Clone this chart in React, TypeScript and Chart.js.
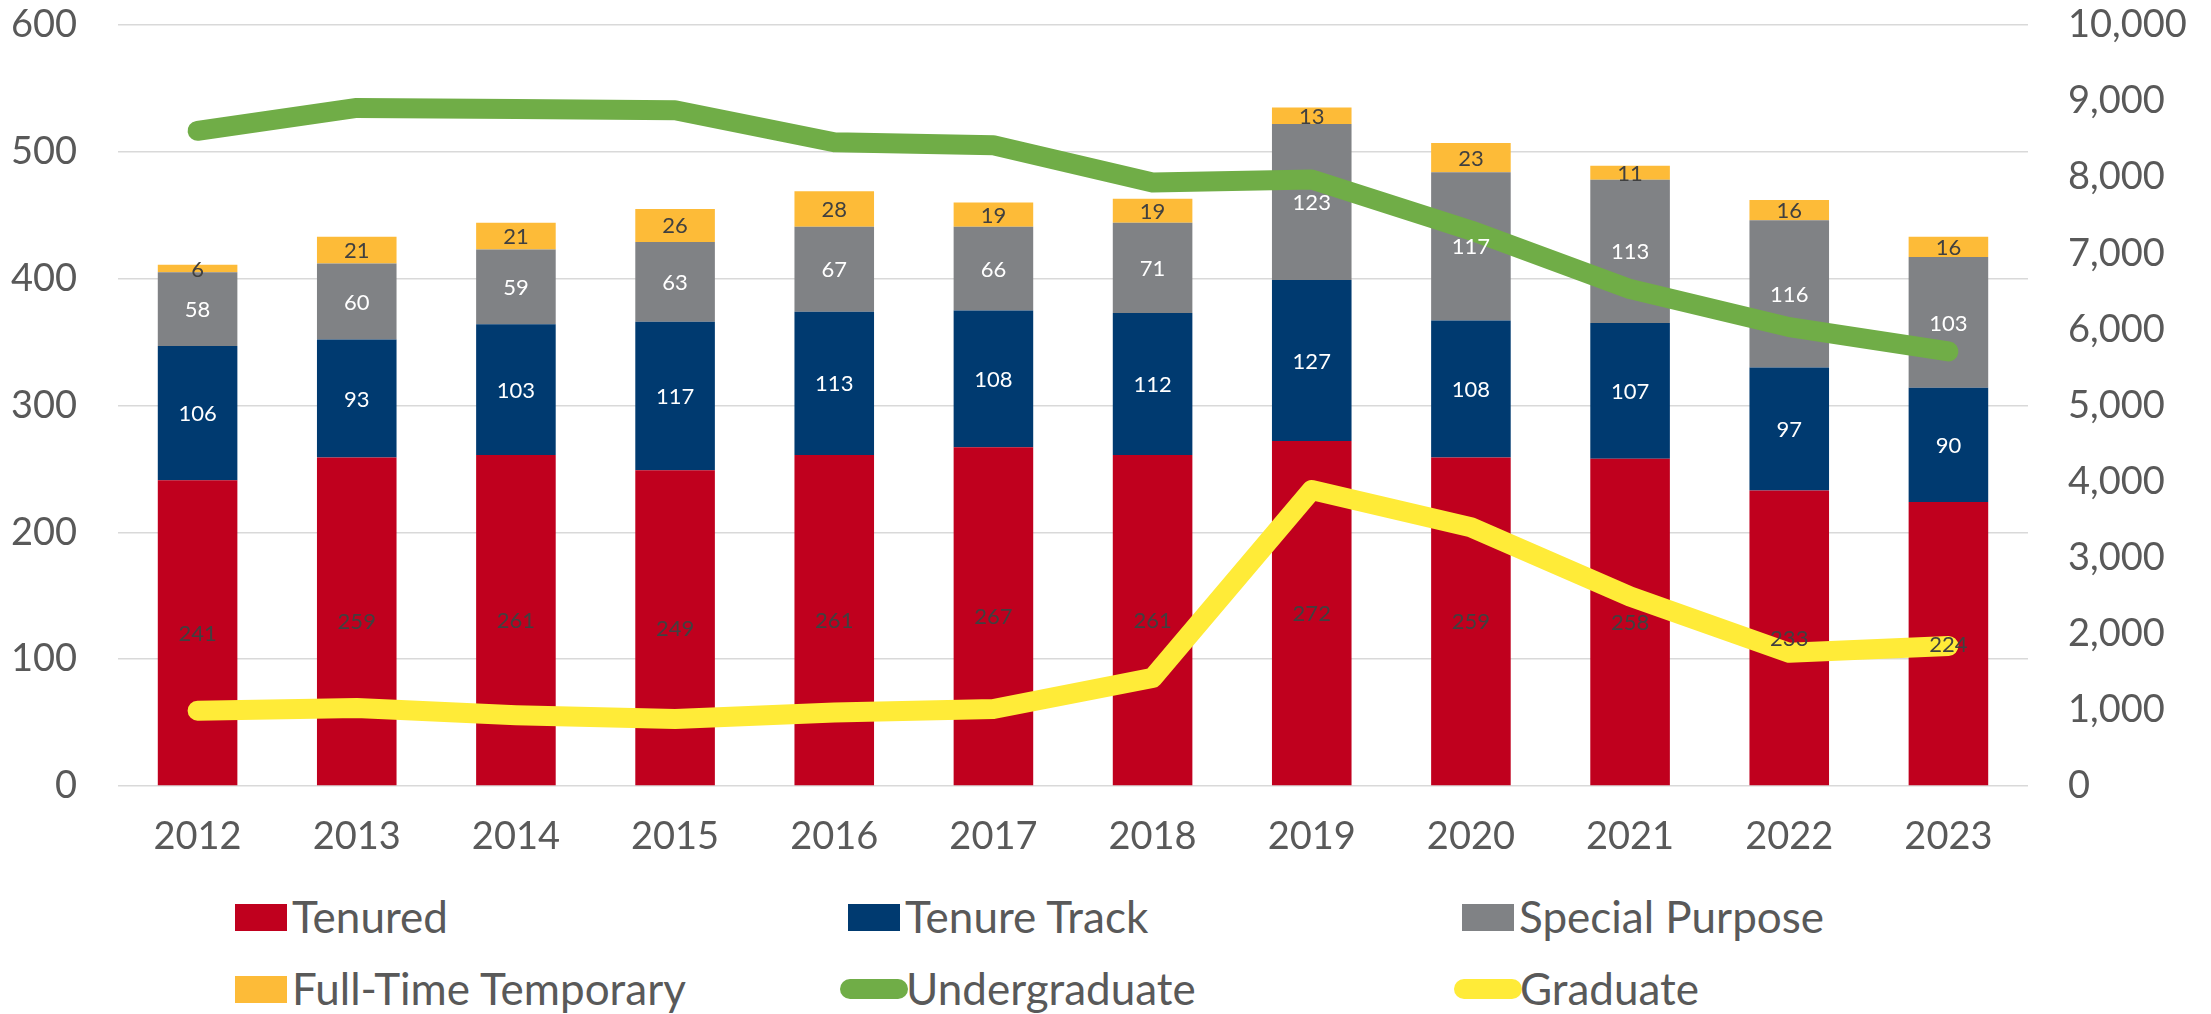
import React, { useEffect, useRef } from "react";
import { Chart, registerables } from "chart.js";

Chart.register(...registerables);

const years = ["2012", "2013", "2014", "2015", "2016", "2017", "2018", "2019", "2020", "2021", "2022", "2023"];
const tenured = [241, 259, 261, 249, 261, 267, 261, 272, 259, 258, 233, 224];
const tenureTrack = [106, 93, 103, 117, 113, 108, 112, 127, 108, 107, 97, 90];
const specialPurpose = [58, 60, 59, 63, 67, 66, 71, 123, 117, 113, 116, 103];
const fullTimeTemporary = [6, 21, 21, 26, 28, 19, 19, 13, 23, 11, 16, 16];
const undergraduate = [8610, 8910, 8895, 8880, 8460, 8420, 7930, 7970, 7300, 6530, 6030, 5710];
const graduate = [990, 1025, 930, 880, 965, 1012, 1420, 3890, 3400, 2490, 1750, 1840];

const FONT = "Lato, 'Open Sans', 'Liberation Sans', sans-serif";
const TEXT = "#595959";
const C_TENURED = "#C0001E";
const C_TT = "#003A70";
const C_SP = "#808285";
const C_FTT = "#FDBB38";
const C_UG = "#70AD47";
const C_GR = "#FFEB38";

const PLOT_TOP = 25;

const segLabels = {
  id: "segLabels",
  afterDatasetsDraw(chart: any) {
    const ctx = chart.ctx;
    chart.data.datasets.forEach((ds: any, i: number) => {
      if (ds.type !== "bar") return;
      const meta = chart.getDatasetMeta(i);
      meta.data.forEach((el: any, j: number) => {
        const p = el.getProps(["x", "y", "base"], true);
        ctx.save();
        ctx.fillStyle = ds.labelColor;
        ctx.font = `22px ${FONT}`;
        ctx.textAlign = "center";
        ctx.textBaseline = "middle";
        ctx.fillText(String(ds.data[j]), p.x, (p.y + p.base) / 2 + 1);
        ctx.restore();
      });
    });
  },
};

type LegendItem = { label: string; color: string; kind: "box" | "line"; x: number; textX: number; y: number };
const legendItems: LegendItem[] = [
  { label: "Tenured", color: C_TENURED, kind: "box", x: 235, textX: 292, y: 917 },
  { label: "Tenure Track", color: C_TT, kind: "box", x: 848, textX: 905, y: 917 },
  { label: "Special Purpose", color: C_SP, kind: "box", x: 1462, textX: 1519, y: 917 },
  { label: "Full-Time Temporary", color: C_FTT, kind: "box", x: 235, textX: 292, y: 989 },
  { label: "Undergraduate", color: C_UG, kind: "line", x: 840, textX: 906, y: 989 },
  { label: "Graduate", color: C_GR, kind: "line", x: 1454, textX: 1520, y: 989 },
];

export default function App() {
  const ref = useRef<HTMLCanvasElement>(null);

  useEffect(() => {
    if (!ref.current) return;
    const tickFont = { family: FONT, size: 38 };
    const zeroPad = (s: any) => {
      s.paddingTop = 0;
      s.paddingBottom = 0;
    };
    const chart = new Chart(ref.current, {
      type: "bar",
      data: {
        labels: years,
        datasets: [
          {
            type: "line",
            label: "Undergraduate",
            data: undergraduate,
            yAxisID: "y1",
            borderColor: C_UG,
            backgroundColor: C_UG,
            borderWidth: 20,
            borderCapStyle: "round",
            borderJoinStyle: "round",
            pointRadius: 0,
            tension: 0,
            order: 0,
          } as any,
          {
            type: "line",
            label: "Graduate",
            data: graduate,
            yAxisID: "y1",
            borderColor: C_GR,
            backgroundColor: C_GR,
            borderWidth: 20,
            borderCapStyle: "round",
            borderJoinStyle: "round",
            pointRadius: 0,
            tension: 0,
            order: 0,
          } as any,
          { type: "bar", label: "Tenured", data: tenured, backgroundColor: C_TENURED, labelColor: "#404040", yAxisID: "y", order: 1 } as any,
          { type: "bar", label: "Tenure Track", data: tenureTrack, backgroundColor: C_TT, labelColor: "#FFFFFF", yAxisID: "y", order: 1 } as any,
          { type: "bar", label: "Special Purpose", data: specialPurpose, backgroundColor: C_SP, labelColor: "#FFFFFF", yAxisID: "y", order: 1 } as any,
          { type: "bar", label: "Full-Time Temporary", data: fullTimeTemporary, backgroundColor: C_FTT, labelColor: "#404040", yAxisID: "y", order: 1 } as any,
        ],
      },
      options: {
        responsive: false,
        animation: false,
        datasets: { bar: { categoryPercentage: 1, barPercentage: 0.5 } },
        layout: { padding: { top: PLOT_TOP, left: 0, right: 0, bottom: 0 } },
        plugins: { legend: { display: false }, tooltip: { enabled: false }, title: { display: false } },
        scales: {
          x: {
            stacked: true,
            grid: { display: false, drawTicks: false },
            border: { display: false },
            ticks: { font: tickFont, color: TEXT, padding: 28, maxRotation: 0 },
            afterFit: (s: any) => {
              s.height = 94;
              s.paddingLeft = 0;
              s.paddingRight = 0;
            },
          },
          y: {
            stacked: true,
            position: "left",
            min: 0,
            max: 600,
            ticks: { stepSize: 100, font: tickFont, color: TEXT, padding: 41 },
            grid: { color: "#D9D9D9", lineWidth: 1.5, drawTicks: false },
            border: { display: false },
            afterFit: (s: any) => {
              s.width = 118;
              zeroPad(s);
            },
          },
          y1: {
            position: "right",
            min: 0,
            max: 10000,
            ticks: {
              stepSize: 1000,
              font: tickFont,
              color: TEXT,
              padding: 40,
              callback: (v: any) => Number(v).toLocaleString("en-US"),
            },
            grid: { drawOnChartArea: false, drawTicks: false },
            border: { display: false },
            afterFit: (s: any) => {
              s.width = 183;
              zeroPad(s);
            },
          },
        },
      } as any,
      plugins: [segLabels],
    });
    // correct any extra top offset added by the layout so the plot top sits at PLOT_TOP
    const extra = chart.chartArea.top - PLOT_TOP;
    if (Math.abs(extra) > 0.5) {
      (chart.options as any).layout.padding.top = PLOT_TOP - extra;
      chart.update();
    }
    return () => chart.destroy();
  }, []);

  return (
    <div style={{ position: "absolute", left: 0, top: 0, width: 2211, height: 1014, background: "#fff", overflow: "hidden" }}>
      <canvas ref={ref} width={2211} height={880} style={{ position: "absolute", left: 0, top: 0, width: 2211, height: 880 }} />
      {legendItems.map((it) => (
        <React.Fragment key={it.label}>
          <div
            style={{
              position: "absolute",
              left: it.x,
              top: it.kind === "box" ? it.y - 13.5 : it.y - 10,
              width: it.kind === "box" ? 52 : 68,
              height: it.kind === "box" ? 27 : 20,
              borderRadius: it.kind === "box" ? 0 : 10,
              background: it.color,
            }}
          />
          <div
            style={{
              position: "absolute",
              left: it.textX,
              top: it.y,
              transform: "translateY(-52%)",
              fontFamily: FONT,
              fontSize: 44,
              lineHeight: 1,
              color: TEXT,
              whiteSpace: "nowrap",
            }}
          >
            {it.label}
          </div>
        </React.Fragment>
      ))}
    </div>
  );
}
